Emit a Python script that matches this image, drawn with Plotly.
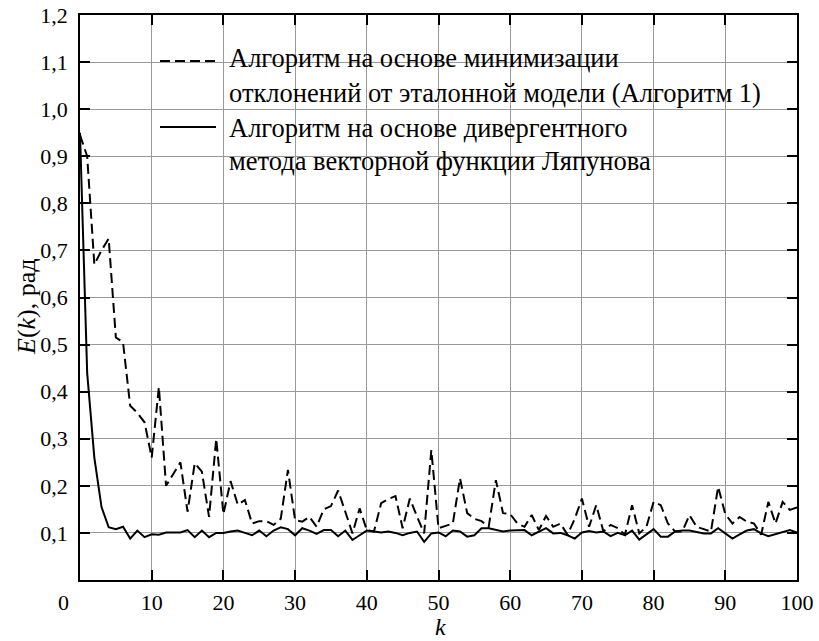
import plotly.graph_objects as go

k = list(range(0, 101))

# Algorithm 1 (dashed): minimisation of deviations from the reference model
e_alg1 = [0.945, 0.90, 0.67, 0.70, 0.725, 0.515, 0.505, 0.37, 0.355, 0.335,
          0.26, 0.41, 0.20, 0.225, 0.25, 0.145, 0.248, 0.23, 0.134, 0.30,
          0.14, 0.21, 0.16, 0.17, 0.12, 0.125, 0.125, 0.117, 0.13, 0.234,
          0.127, 0.124, 0.134, 0.113, 0.15, 0.157, 0.19, 0.145, 0.099, 0.152,
          0.106, 0.103, 0.163, 0.172, 0.178, 0.11, 0.173, 0.135, 0.099, 0.276,
          0.11, 0.115, 0.12, 0.216, 0.142, 0.13, 0.125, 0.113, 0.212, 0.142,
          0.14, 0.12, 0.113, 0.138, 0.106, 0.136, 0.113, 0.12, 0.096, 0.13,
          0.173, 0.113, 0.159, 0.103, 0.117, 0.11, 0.096, 0.159, 0.099, 0.113,
          0.166, 0.159, 0.12, 0.103, 0.103, 0.138, 0.113, 0.108, 0.103, 0.198,
          0.14, 0.12, 0.134, 0.124, 0.12, 0.096, 0.166, 0.12, 0.166, 0.149,
          0.154]

# Divergent method of the vector Lyapunov function (solid)
e_lyap = [0.95, 0.44, 0.26, 0.155, 0.112, 0.108, 0.113, 0.088, 0.105, 0.091,
          0.097, 0.096, 0.101, 0.101, 0.101, 0.106, 0.091, 0.105, 0.091, 0.100,
          0.100, 0.103, 0.105, 0.100, 0.095, 0.105, 0.093, 0.105, 0.112, 0.108,
          0.095, 0.110, 0.105, 0.098, 0.106, 0.106, 0.093, 0.105, 0.085, 0.095,
          0.105, 0.103, 0.101, 0.103, 0.100, 0.095, 0.100, 0.103, 0.081, 0.099,
          0.101, 0.093, 0.105, 0.103, 0.092, 0.095, 0.110, 0.110, 0.107, 0.103,
          0.105, 0.105, 0.106, 0.095, 0.103, 0.110, 0.099, 0.100, 0.095, 0.088,
          0.101, 0.104, 0.101, 0.103, 0.093, 0.100, 0.095, 0.105, 0.086, 0.097,
          0.108, 0.092, 0.092, 0.103, 0.105, 0.105, 0.102, 0.099, 0.099, 0.110,
          0.099, 0.088, 0.097, 0.105, 0.108, 0.099, 0.093, 0.097, 0.101, 0.106,
          0.101]

x_ticks = [0, 10, 20, 30, 40, 50, 60, 70, 80, 90, 100]
x_ticktext = ["", "10", "20", "30", "40", "50", "60", "70", "80", "90", "100"]
y_ticks = [0, 0.1, 0.2, 0.3, 0.4, 0.5, 0.6, 0.7, 0.8, 0.9, 1.0, 1.1, 1.2]
y_ticktext = ["", "0,1", "0,2", "0,3", "0,4", "0,5", "0,6", "0,7", "0,8", "0,9",
              "1,0", "1,1", "1,2"]

legend_lines = ["Алгоритм на основе минимизации",
                "отклонений от эталонной модели (Алгоритм 1)",
                "Алгоритм на основе дивергентного",
                "метода векторной функции Ляпунова"]

FONT = "Liberation Serif"
W, H = 819, 641
ML, MR, MT, MB = 80, 22, 15, 61
PW, PH = W - ML - MR, H - MT - MB


def px2paper_x(px):
    return (px - ML) / PW


def px2paper_y(py):
    return 1 - (py - MT) / PH


fig = go.Figure()
fig.add_trace(go.Scatter(x=k, y=e_alg1, mode="lines",
                         line=dict(color="black", width=2, dash="10px,5px"),
                         showlegend=False))
fig.add_trace(go.Scatter(x=k, y=e_lyap, mode="lines",
                         line=dict(color="black", width=2),
                         showlegend=False))

axis_common = dict(showline=True, linecolor="black", linewidth=1.5, mirror="allticks",
                   ticks="inside", ticklen=10, tickcolor="black", tickwidth=1.5,
                   showgrid=True, gridcolor="#9a9a9a", gridwidth=1.4,
                   zeroline=False, automargin=False,
                   tickfont=dict(family=FONT, size=22, color="black"))

fig.update_xaxes(range=[0, 100], tickvals=x_ticks, ticktext=x_ticktext,
                 ticklabelstandoff=2, **axis_common)
fig.update_yaxes(range=[0, 1.2], tickvals=y_ticks, ticktext=y_ticktext,
                 ticklabelstandoff=6, **axis_common)

shapes = [
    dict(type="rect", xref="paper", yref="paper", layer="between",
         x0=px2paper_x(147), x1=px2paper_x(775), y0=px2paper_y(173), y1=px2paper_y(35),
         fillcolor="white", line=dict(width=0)),
    dict(type="line", xref="paper", yref="paper",
         x0=px2paper_x(160), x1=px2paper_x(216), y0=px2paper_y(61), y1=px2paper_y(61),
         line=dict(color="black", width=2, dash="10px,5px")),
    dict(type="line", xref="paper", yref="paper",
         x0=px2paper_x(160), x1=px2paper_x(216), y0=px2paper_y(127), y1=px2paper_y(127),
         line=dict(color="black", width=2)),
]

annotations = []
for text, py in zip(legend_lines, [58, 93, 128, 161]):
    annotations.append(dict(text=text, xref="paper", yref="paper",
                            x=px2paper_x(227), y=px2paper_y(py), xanchor="left",
                            yanchor="middle", showarrow=False,
                            font=dict(family=FONT, size=26.5, color="black")))

annotations.append(dict(text="0", xref="paper", yref="paper", x=px2paper_x(63),
                        y=px2paper_y(602), xanchor="center", yanchor="middle",
                        showarrow=False, font=dict(family=FONT, size=22, color="black")))
annotations.append(dict(text="<i>k</i>", xref="paper", yref="paper", x=px2paper_x(440),
                        y=px2paper_y(627), xanchor="center", yanchor="middle",
                        showarrow=False, font=dict(family=FONT, size=24, color="black")))
annotations.append(dict(text="<i>E</i>(<i>k</i>), рад", xref="paper", yref="paper",
                        x=px2paper_x(26), y=px2paper_y(307), xanchor="center",
                        yanchor="middle", textangle=-90, showarrow=False,
                        font=dict(family=FONT, size=26, color="black")))

fig.update_layout(width=W, height=H, margin=dict(l=ML, r=MR, t=MT, b=MB, autoexpand=False),
                  paper_bgcolor="white", plot_bgcolor="white",
                  shapes=shapes, annotations=annotations, showlegend=False)

fig.write_html("out.html")
